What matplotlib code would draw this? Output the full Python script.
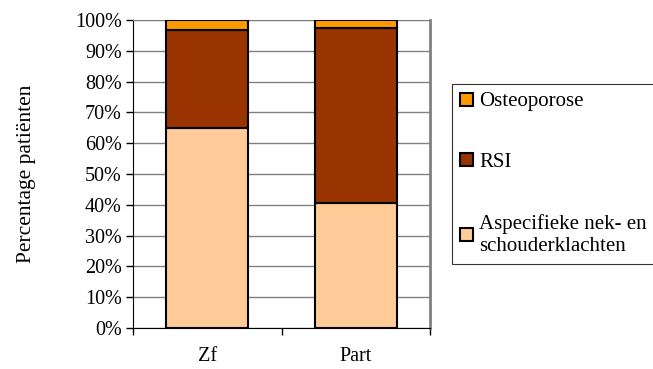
import matplotlib.pyplot as plt
import numpy as np

plt.rcParams['font.family'] = ['Liberation Serif', 'DejaVu Serif']

groepen = ["Zf", "Part"]
aspecifiek = [64.8, 40.6]
rsi = [32.0, 56.9]
osteoporose = [3.2, 2.5]

labels = ["Aspecifieke nek- en\nschouderklachten", "RSI", "Osteoporose"]
kleuren = ["#FFCC99", "#993300", "#FF9900"]

fig = plt.figure(figsize=(6.53, 3.69), dpi=100)
ax = fig.add_axes([0.2037, 0.111, 0.4548, 0.8348])

x = np.arange(len(groepen))
onder = np.zeros(len(groepen))
balken = []
for waarden, kleur, lab in zip([aspecifiek, rsi, osteoporose], kleuren, labels):
    b = ax.bar(x, waarden, 0.55, bottom=onder, color=kleur, edgecolor="black",
               linewidth=1.5, label=lab, zorder=3)
    balken.append(b)
    onder += np.array(waarden)

ax.set_xlim(-0.5, 1.5)
ax.set_ylim(0, 100)
ax.set_yticks(np.arange(0, 101, 10))
ax.set_yticklabels([f"{v}%" for v in range(0, 101, 10)], fontsize=14.5)
ax.yaxis.grid(True, color="#808080", linewidth=1, zorder=0)

# groepnamen in het midden, streepjes op de grenzen
ax.set_xticks(x)
ax.set_xticklabels(groepen, fontsize=14.5)
ax.tick_params(axis="x", which="major", length=0, pad=14)
ax.set_xticks([-0.5, 0.5, 1.5], minor=True)
ax.tick_params(axis="x", which="minor", length=5, width=1, direction="out")
ax.tick_params(axis="y", length=5, width=1, direction="out", pad=3)

ax.spines["left"].set_color("black")
ax.spines["bottom"].set_color("black")
ax.spines["top"].set_color("#808080")
ax.spines["right"].set_color("#808080")
ax.spines["right"].set_linewidth(2)

ax.set_ylabel("Percentage patiënten", fontsize=15.5, labelpad=28)

handles = [balken[2], balken[1], balken[0]]
leg = fig.legend(handles, [labels[2], labels[1], labels[0]],
                 loc="upper left", bbox_to_anchor=(0.692, 0.772),
                 fontsize=15, frameon=True, fancybox=False, edgecolor="black",
                 handlelength=0.6, handleheight=0.6, handletextpad=0.3,
                 labelspacing=2.0, borderpad=0.4, borderaxespad=0)
leg.get_frame().set_linewidth(0.8)

fig.savefig("out.png", dpi=100)
